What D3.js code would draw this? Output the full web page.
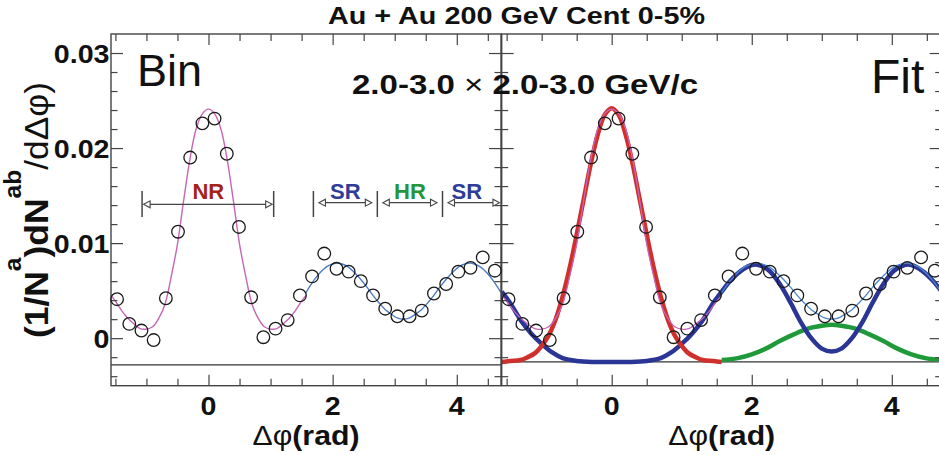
<!DOCTYPE html>
<html><head><meta charset="utf-8">
<script src="https://cdn.jsdelivr.net/npm/d3@7"></script>
<style>html,body{margin:0;padding:0;background:#fff;} svg{display:block;font-family:"Liberation Sans",Arial,Helvetica,sans-serif;}</style>
</head><body><svg id="c" width="939" height="455"></svg>
<script>
const PI = Math.PI;
// ---- data ----
const binCenters = [-1.473,-1.276,-1.080,-0.884,-0.687,-0.491,-0.295,-0.098,0.098,0.295,0.491,0.687,0.884,1.080,1.276,1.473,1.669,1.865,2.062,2.258,2.454,2.651,2.847,3.043,3.240,3.436,3.632,3.829,4.025,4.221,4.418,4.614];
const yieldValues = [0.0041,0.0015,0.0008,-0.0002,0.0042,0.0112,0.0190,0.0226,0.0231,0.0194,0.0117,0.0043,0.0001,0.0010,0.0019,0.0045,0.0065,0.0089,0.0073,0.0070,0.0060,0.0045,0.0031,0.0023,0.0023,0.0029,0.0047,0.0057,0.0070,0.0074,0.0085,0.0071];

// total fit, near side part (pink)
const fitNearX = [-1.571,-1.5,-1.4,-1.3,-1.2,-1.1,-1.0,-0.9,-0.8,-0.7,-0.6,-0.5,-0.4,-0.3,-0.2,-0.1,0,0.1,0.2,0.3,0.4,0.5,0.6,0.7,0.8,0.9,1.0,1.1,1.2,1.3,1.4,1.5,1.571];
const fitNearY = [0.0045,0.0039,0.0029,0.0021,0.0015,0.0010,0.00095,0.0012,0.0021,0.0036,0.0065,0.0099,0.0145,0.0188,0.0220,0.0236,0.0241,0.0236,0.0220,0.0188,0.0145,0.0099,0.0065,0.0036,0.0021,0.0012,0.00095,0.0010,0.0015,0.0021,0.0029,0.0039,0.0045];
// total fit, away side part (blue)
const fitAwayX = [1.571,1.7,1.8,1.9,2.0,2.065,2.15,2.25,2.35,2.45,2.55,2.65,2.75,2.85,2.95,3.05,3.1416,3.23,3.33,3.43,3.53,3.63,3.73,3.83,3.93,4.03,4.13,4.22,4.28,4.38,4.48,4.58,4.712];
const fitAwayY = [0.0048,0.0061,0.0069,0.0075,0.0078,0.0079,0.0078,0.0075,0.0069,0.0062,0.0054,0.0045,0.0037,0.0030,0.0025,0.0021,0.0020,0.0021,0.0025,0.0030,0.0037,0.0045,0.0054,0.0062,0.0069,0.0075,0.0078,0.0079,0.0078,0.0075,0.0069,0.0061,0.0048];

// components (right panel)
const nrX = [-1.571,-1.45,-1.3,-1.2,-1.1,-1.0,-0.9,-0.8,-0.7,-0.6,-0.5,-0.4,-0.3,-0.2,-0.1,0,0.1,0.2,0.3,0.4,0.5,0.6,0.7,0.8,0.9,1.0,1.1,1.2,1.3,1.45,1.571];
const nrY = [-0.0025,-0.0024,-0.0023,-0.0020,-0.0016,-0.0008,0.0003,0.0020,0.0044,0.0074,0.0109,0.0146,0.0183,0.0214,0.0235,0.0242,0.0235,0.0214,0.0183,0.0146,0.0109,0.0074,0.0044,0.0020,0.0003,-0.0008,-0.0016,-0.0020,-0.0023,-0.0024,-0.0025];
const srX = [-1.571,-1.45,-1.3,-1.15,-1.0,-0.85,-0.7,-0.5,-0.25,0,0.25,0.5,0.7,0.85,1.0,1.15,1.3,1.45,1.571,1.7,1.85,2.0,2.1,2.25,2.4,2.55,2.7,2.85,3.0,3.1416,3.28,3.43,3.58,3.73,3.88,4.03,4.18,4.28,4.43,4.58,4.712];
const srY = [0.0049,0.0037,0.0019,0.0005,-0.0006,-0.0015,-0.0021,-0.0024,-0.0025,-0.0025,-0.0025,-0.0024,-0.0021,-0.0015,-0.0006,0.0005,0.0019,0.0037,0.0049,0.0061,0.0071,0.0077,0.0077,0.0071,0.0057,0.0038,0.0017,0.0000,-0.0011,-0.0014,-0.0011,0.0000,0.0017,0.0038,0.0057,0.0071,0.0077,0.0077,0.0071,0.0061,0.0049];
const hrX = [1.571,1.8,2.0,2.2,2.4,2.6,2.8,3.0,3.1416,3.28,3.48,3.68,3.88,4.08,4.28,4.48,4.712];
const hrY = [-0.0023,-0.0021,-0.0017,-0.0011,-0.0003,0.0004,0.0010,0.0013,0.0014,0.0013,0.0010,0.0004,-0.0003,-0.0011,-0.0017,-0.0021,-0.0023];

const baselineLeft = -0.0028, baselineRight = -0.0025;

const yTickValues = [0, 0.01, 0.02, 0.03];
const yTickLabels = ["0", "0.01", "0.02", "0.03"];
const xTickValues = [0, 2, 4];
const xTickLabels = ["0", "2", "4"];

const regionNames = ["NR", "SR", "HR", "SR"];
const regionStart = [-1.07, 1.69, 2.72, 3.77];
const regionEnd = [1.05, 2.72, 3.77, 4.712];
const regionColors = ["#a3231b", "#2f3c98", "#23963c", "#2f3c98"];

const titleText = "Au + Au 200 GeV Cent 0-5%";

// ---- layout ----
const svg = d3.select("#c");
const plotTop = 34, plotBottom = 385.7;
const y = d3.scaleLinear().domain([-0.005, 0.032]).range([plotBottom, plotTop]);
const xL = d3.scaleLinear().domain([-PI/2, 3*PI/2]).range([111, 501]);
const xR = d3.scaleLinear().domain([-PI/2, 3*PI/2]).range([501.7, 941.7]);

const defs = svg.append("defs");
function clip(id, x0, x1) {
  defs.append("clipPath").attr("id", id).append("rect")
    .attr("x", x0).attr("y", plotTop).attr("width", x1 - x0).attr("height", plotBottom - plotTop);
}
clip("clipL", 111, 501);
clip("clipR", 501.7, 941.7);

function curve(g, x, xs, ys, color, w) {
  const line = d3.line().x(d => x(d[0])).y(d => y(d[1])).curve(d3.curveCatmullRom.alpha(0.5));
  g.append("path").attr("d", line(xs.map((v, i) => [v, ys[i]])))
    .attr("fill", "none").attr("stroke", color).attr("stroke-width", w)
    .attr("stroke-linejoin", "round").attr("stroke-linecap", "butt");
}

function axes(x, x0, x1) {
  const minorY = d3.range(-0.004, 0.0301, 0.002).filter(v => Math.abs(Math.round(v * 100) - v * 100) > 1e-6);
  const minorX = d3.range(-1.5, 4.51, 0.5).filter(v => ![0, 2, 4].includes(v));
  const g = svg.append("g").attr("class", "axes");
  const add = (axis, tx, ty) => {
    const a = g.append("g").attr("transform", `translate(${tx},${ty})`).call(axis);
    a.select(".domain").remove();
    a.selectAll("line").attr("stroke", "#444").attr("stroke-width", 1.2);
  };
  add(d3.axisRight(y).tickValues(yTickValues).tickSize(12).tickFormat(""), x0, 0);
  add(d3.axisRight(y).tickValues(minorY).tickSize(6.5).tickFormat(""), x0, 0);
  add(d3.axisLeft(y).tickValues(yTickValues).tickSize(12).tickFormat(""), x1, 0);
  add(d3.axisLeft(y).tickValues(minorY).tickSize(6.5).tickFormat(""), x1, 0);
  add(d3.axisBottom(x).tickValues(xTickValues).tickSize(11).tickFormat(""), 0, plotTop);
  add(d3.axisBottom(x).tickValues(minorX).tickSize(7).tickFormat(""), 0, plotTop);
  add(d3.axisTop(x).tickValues(xTickValues).tickSize(11).tickFormat(""), 0, plotBottom);
  add(d3.axisTop(x).tickValues(minorX).tickSize(7).tickFormat(""), 0, plotBottom);
  g.append("rect").attr("x", x0).attr("y", plotTop).attr("width", x1 - x0).attr("height", plotBottom - plotTop)
    .attr("fill", "none").attr("stroke", "#444").attr("stroke-width", 1.4);
  xTickValues.forEach((v, i) => {
    svg.append("text").attr("transform", `translate(${x(v)},415) scale(1.1,1)`)
      .attr("text-anchor", "middle").attr("font-size", 26).attr("font-weight", "bold")
      .attr("fill", "#111").text(xTickLabels[i]);
  });
  const t = svg.append("text").attr("x", (x0 + x1) / 2).attr("y", 445).attr("text-anchor", "middle")
    .attr("font-size", 27).attr("fill", "#111").attr("textLength", 107).attr("lengthAdjust", "spacingAndGlyphs");
  t.append("tspan").attr("font-weight", "normal").text("Δφ");
  t.append("tspan").attr("font-weight", "bold").text("(rad)");
}

function points(x) {
  svg.append("g").selectAll("circle").data(binCenters).join("circle")
    .attr("cx", d => x(d)).attr("cy", (d, i) => y(yieldValues[i])).attr("r", 6.3)
    .attr("fill", "none").attr("stroke", "#1a1a1a").attr("stroke-width", 1.3);
}

// ---- left panel ----
const gL = svg.append("g").attr("clip-path", "url(#clipL)");
gL.append("line").attr("x1", 111).attr("x2", 501).attr("y1", y(baselineLeft)).attr("y2", y(baselineLeft))
  .attr("stroke", "#333").attr("stroke-width", 1.3);
curve(gL, xL, fitNearX, fitNearY, "#c765b6", 1.4);
curve(gL, xL, fitAwayX, fitAwayY, "#4c7cc4", 1.4);

// ---- right panel ----
const gR = svg.append("g").attr("clip-path", "url(#clipR)");
gR.append("line").attr("x1", 501.7).attr("x2", 941.7).attr("y1", y(baselineRight)).attr("y2", y(baselineRight))
  .attr("stroke", "#333").attr("stroke-width", 1.3);
curve(gR, xR, hrX, hrY, "#1f9a3a", 4.5);
curve(gR, xR, srX, srY, "#2b3596", 4.5);
curve(gR, xR, nrX, nrY, "#d0302b", 4.5);
curve(gR, xR, fitNearX, fitNearY, "#c765b6", 1.3);
curve(gR, xR, fitAwayX, fitAwayY, "#4a86d0", 1.3);

axes(xL, 111, 501);
axes(xR, 501.7, 941.7);
points(xL);
points(xR);

yTickValues.forEach((v, i) => {
  svg.append("text").attr("transform", `translate(109.5,${y(v) + 10})scale(1.1,1)`)
    .attr("text-anchor", "end").attr("font-size", 26).attr("font-weight", "bold")
    .attr("fill", "#111").text(yTickLabels[i]);
});

{
  const t = svg.append("text").attr("transform", "translate(48,210) rotate(-90)")
    .attr("text-anchor", "middle").attr("font-size", 33).attr("font-weight", "bold").attr("fill", "#111")
    .attr("textLength", 256).attr("lengthAdjust", "spacingAndGlyphs");
  t.append("tspan").text("(1/N");
  t.append("tspan").attr("dy", -27).attr("font-size", 23).text("a");
  t.append("tspan").attr("dy", 27).text(")dN");
  t.append("tspan").attr("dy", -27).attr("font-size", 23).text("ab");
  t.append("tspan").attr("dy", 27).attr("font-weight", "normal").text("/dΔφ)");
}

{
  const g = svg.append("g");
  const ay = [204.3, 202.7, 202.7, 202.7];
  const bars = [];
  regionNames.forEach((nm, i) => {
    const a = xL(regionStart[i]), b = xL(regionEnd[i]);
    const inA = i === 0 ? 1.5 : 5.5, inB = i === 0 ? 1.5 : (i === 3 ? 1.5 : 5.5);
    const p = a + inA, q = b - inB;
    const yy = ay[i];
    g.append("line").attr("x1", p + 6).attr("x2", q - 6).attr("y1", yy).attr("y2", yy)
      .attr("stroke", "#444").attr("stroke-width", 1.3);
    g.append("path").attr("d", `M${p},${yy}L${p + 6.5},${yy - 3.5}L${p + 6.5},${yy + 3.5}Z`)
      .attr("fill", "#fff").attr("stroke", "#444").attr("stroke-width", 1.1);
    g.append("path").attr("d", `M${q},${yy}L${q - 6.5},${yy - 3.5}L${q - 6.5},${yy + 3.5}Z`)
      .attr("fill", "#fff").attr("stroke", "#444").attr("stroke-width", 1.1);
    if (!bars.includes(regionStart[i])) bars.push(regionStart[i]);
    if (regionEnd[i] < 4.7 && !bars.includes(regionEnd[i])) bars.push(regionEnd[i]);
    g.append("text").attr("x", (a + (i === 3 ? b - 10 : b)) / 2 + (i === 0 ? 0.5 : 0)).attr("y", 198.5)
      .attr("text-anchor", "middle").attr("font-size", 22).attr("font-weight", "bold")
      .attr("fill", regionColors[i]).text(nm);
  });
  bars.forEach(v => {
    g.append("line").attr("x1", xL(v)).attr("x2", xL(v)).attr("y1", 191).attr("y2", 217)
      .attr("stroke", "#444").attr("stroke-width", 1.5);
  });
}

svg.append("text").attr("x", 137).attr("y", 86).attr("font-size", 45).attr("fill", "#111").text("Bin");
svg.append("text").attr("x", 871).attr("y", 93).attr("font-size", 48).attr("fill", "#111").text("Fit");
{
  const t = svg.append("text").attr("x", 352).attr("y", 93.5).attr("font-size", 28).attr("fill", "#111")
    .attr("textLength", 346).attr("lengthAdjust", "spacingAndGlyphs");
  t.append("tspan").attr("font-weight", "bold").text("2.0-3.0 ");
  t.append("tspan").attr("font-weight", "normal").text("×");
  t.append("tspan").attr("font-weight", "bold").text(" 2.0-3.0 GeV/c");
}
svg.append("text").attr("x", 328).attr("y", 24).attr("font-size", 24).attr("font-weight", "bold")
  .attr("fill", "#111").attr("textLength", 377).attr("lengthAdjust", "spacingAndGlyphs").text(titleText);
</script></body></html>
